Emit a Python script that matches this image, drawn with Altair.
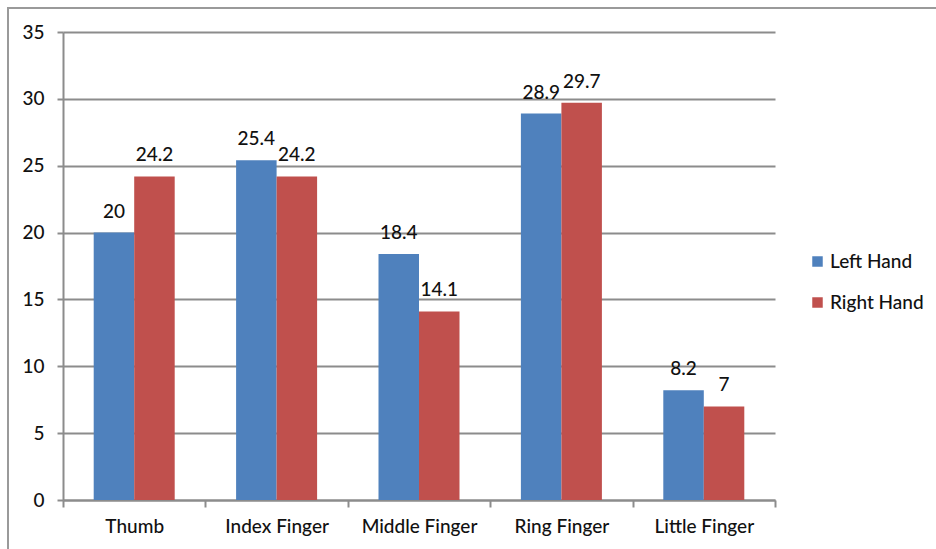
import altair as alt
import pandas as pd

fingers = ["Thumb", "Index Finger", "Middle Finger", "Ring Finger", "Little Finger"]
left_hand = [20, 25.4, 18.4, 28.9, 8.2]
right_hand = [24.2, 24.2, 14.1, 29.7, 7]
series = ["Left Hand", "Right Hand"]
colors = ["#4F81BD", "#C0504D"]

rows = []
for f, l, r in zip(fingers, left_hand, right_hand):
    rows.append({"finger": f, "hand": series[0], "value": l})
    rows.append({"finger": f, "hand": series[1], "value": r})
df = pd.DataFrame(rows)

FONT = "Lato"
TXT = "#111111"
GRID = "#8c8c8c"
FS = 19

x = alt.X("finger:N", sort=fingers, title=None,
          scale=alt.Scale(paddingInner=0, paddingOuter=0),
          axis=alt.Axis(tickBand="extent", tickSize=7, tickColor=GRID, tickWidth=2,
                        domainColor=GRID, domainWidth=2, labelAngle=0,
                        labelFontSize=FS, labelFont=FONT, labelColor=TXT,
                        labelFontWeight=500, labelPadding=10, grid=False))
xo = alt.XOffset("hand:N", sort=series, scale=alt.Scale(paddingInner=0, paddingOuter=0.758))
y = alt.Y("value:Q", title=None,
          scale=alt.Scale(domain=[0, 35], nice=False),
          axis=alt.Axis(values=[0, 5, 10, 15, 20, 25, 30, 35], tickSize=6, tickColor=GRID,
                        tickWidth=2, domainColor=GRID, domainWidth=2, gridColor=GRID,
                        gridWidth=2, labelFontSize=FS, labelFont=FONT, labelColor=TXT,
                        labelFontWeight=500, labelPadding=13))

base = alt.Chart(df)

bars = base.mark_bar(stroke=None).encode(
    x=x, xOffset=xo, y=y,
    color=alt.Color("hand:N", sort=series, title=None,
                    scale=alt.Scale(domain=series, range=colors),
                    legend=alt.Legend(orient="none", legendX=745, legendY=220,
                                      symbolType="square", symbolSize=110,
                                      symbolStrokeWidth=0, labelFontSize=FS,
                                      labelFont=FONT, labelColor=TXT, labelFontWeight=500,
                                      rowPadding=21, labelOffset=3, padding=0)),
)

labels = base.mark_text(baseline="alphabetic", dy=-15, fontSize=FS, font=FONT,
                        fontWeight=500, color=TXT).encode(
    x=x, xOffset=xo, y=y, text=alt.Text("value:Q"))

frame = alt.Chart(pd.DataFrame({"k": [0]})).mark_rect(
    fill=None, stroke="#9a9a9a", strokeWidth=2).encode(
    x=alt.value(-55), x2=alt.value(2000), y=alt.value(-24), y2=alt.value(2000))

chart = alt.layer(bars, labels, frame).properties(
    width=712, height=468,
    padding={"left": 63, "top": 32, "right": 161, "bottom": 49},
    autosize=alt.AutoSizeParams(type="none"),
    background="white",
).configure_view(stroke=None)

chart.save("out.html", embed_options={"renderer": "svg", "actions": False})
